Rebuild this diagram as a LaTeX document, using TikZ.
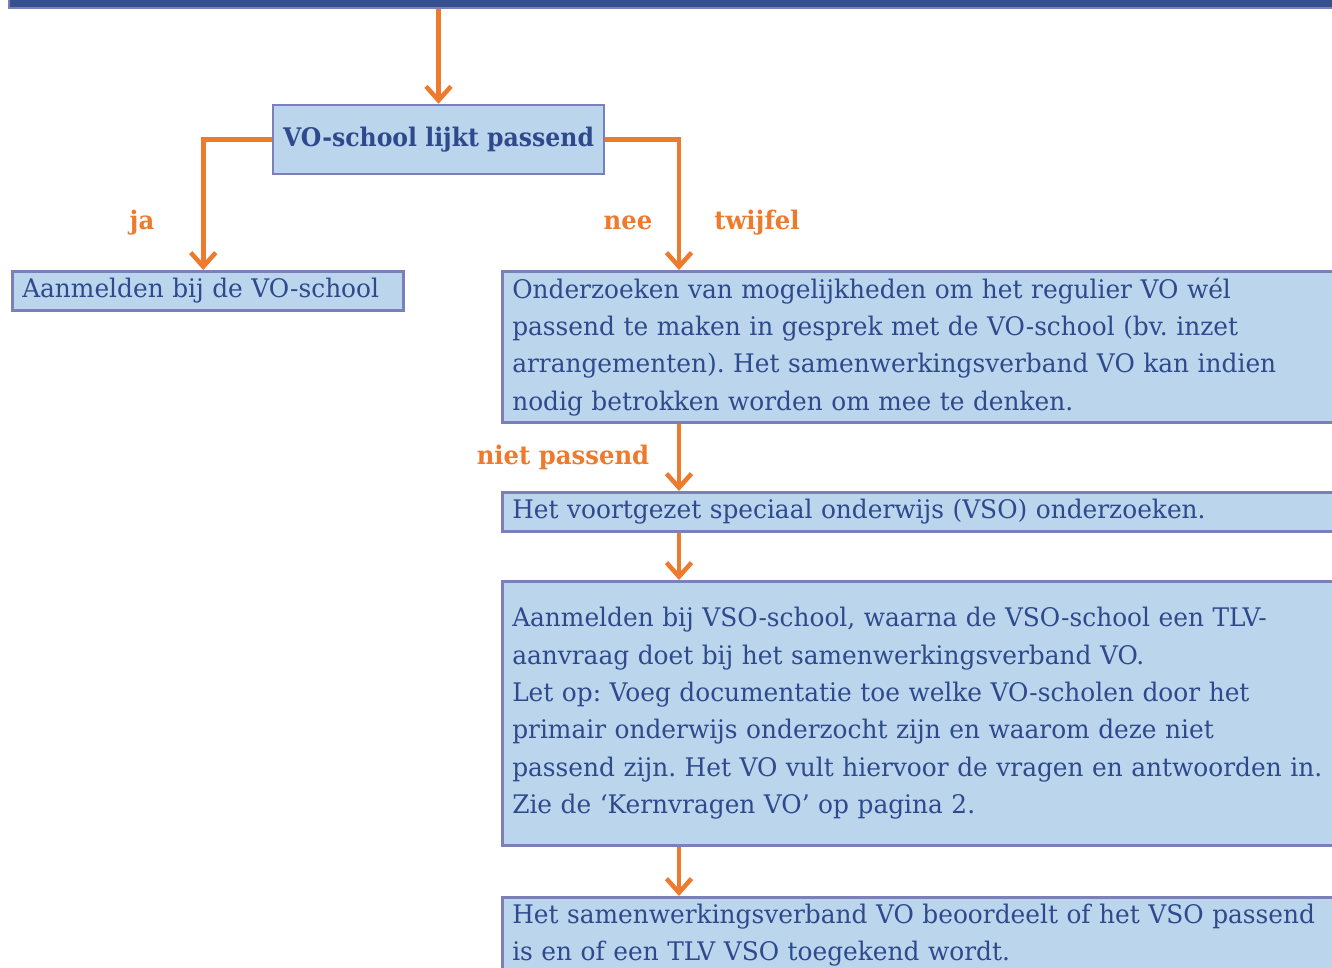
\documentclass[tikz,border=0pt]{standalone}
\usepackage{fontspec}
\setmainfont{DejaVu Serif}
\usetikzlibrary{arrows.meta}
\definecolor{boxfill}{HTML}{BBD5ED}
\definecolor{boxline}{HTML}{7B80B9}
\definecolor{txt}{HTML}{2E4A8C}
\definecolor{orng}{HTML}{EE7A2D}
\definecolor{barfill}{HTML}{354F8F}
\frenchspacing
\tikzset{
  bodyfont/.style={font=\fontsize{25.6pt}{37.3pt}\selectfont\addfontfeatures{FakeStretch=0.97}},
  flowbox/.style={draw=boxline, line width=2.5pt, fill=boxfill, text=txt, bodyfont,
    inner xsep=10pt, inner ysep=0pt, align=left},
  widebox/.style={flowbox, anchor=north west, text width=824pt},
  lbl/.style={text=orng, font=\fontsize{25.6pt}{30pt}\selectfont\bfseries\addfontfeatures{FakeStretch=0.95}},
  conn/.style={draw=orng, line width=4.5pt, -{Straight Barb[length=14pt,width=25pt]}}
}
\begin{document}
\begin{tikzpicture}[x=1pt,y=-1pt]
\useasboundingbox (0,0) rectangle (1332,968);
\clip (0,0) rectangle (1332,968);
% top bar (cut off)
\node[draw=boxline, line width=2pt, fill=barfill, anchor=south west, minimum width=1340pt, minimum height=40pt, inner sep=0pt] (bar) at (8,9) {};
% title box
\node[flowbox, minimum width=331pt, minimum height=69pt, inner sep=0pt, align=center,
  font=\fontsize{25.6pt}{30pt}\selectfont\bfseries\addfontfeatures{FakeStretch=0.92}] (title) at (438.5,139.5) {\raisebox{-2.5pt}{VO-school lijkt passend}};
% ja box
\node[flowbox, anchor=north west, text width=371pt, minimum height=39pt] (aan) at (11,270) {Aanmelden bij de VO-school};
% wide boxes
\node[widebox, minimum height=151pt] (onder) at (501,270) {%
\mbox{Onderzoeken van mogelijkheden om het regulier VO wél}\\
\mbox{passend te maken in gesprek met de VO-school (bv. inzet}\\
\mbox{arrangementen). Het samenwerkingsverband VO kan indien}\\
\mbox{nodig betrokken worden om mee te denken.}};
\node[widebox, minimum height=39pt] (vso) at (501,491) {Het voortgezet speciaal onderwijs (VSO) onderzoeken.};
\node[widebox, minimum height=264pt] (aanvso) at (501,580) {%
\mbox{Aanmelden bij VSO-school, waarna de VSO-school een TLV-}\\
\mbox{aanvraag doet bij het samenwerkingsverband VO.}\\
\mbox{Let op: Voeg documentatie toe welke VO-scholen door het}\\
\mbox{primair onderwijs onderzocht zijn en waarom deze niet}\\
\mbox{passend zijn. Het VO vult hiervoor de vragen en antwoorden in.}\\
\mbox{Zie de ‘Kernvragen VO’ op pagina 2.}};
\node[widebox, minimum height=76pt] (beoord) at (501,896) {%
\mbox{Het samenwerkingsverband VO beoordeelt of het VSO passend}\\
\mbox{is en of een TLV VSO toegekend wordt.}};
% labels
\node[lbl] (lja) at (142,223) {ja};
\node[lbl] (lnee) at (628,223) {nee};
\node[lbl] (ltw) at (757,223) {twijfel};
\node[lbl] (lniet) at (563,457) {niet passend};
% connectors
\draw[conn] (bar.south -| title.north) -- (title.north);
\draw[conn] (title.west) -| ([xshift=-4.5pt]aan.north);
\draw[conn] (title.east) -| ([xshift=178pt]onder.north west);
\draw[conn] ([xshift=178pt]onder.south west) -- ([xshift=178pt]vso.north west);
\draw[conn] ([xshift=178pt]vso.south west) -- ([xshift=178pt]aanvso.north west);
\draw[conn] ([xshift=178pt]aanvso.south west) -- ([xshift=178pt]beoord.north west);
\end{tikzpicture}
\end{document}
